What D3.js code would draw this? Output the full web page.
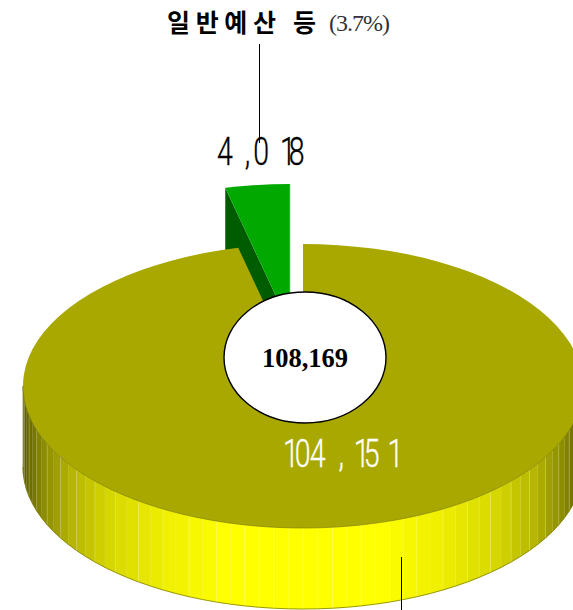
<!DOCTYPE html>
<html>
<head>
<meta charset="utf-8">
<script src="https://cdn.jsdelivr.net/npm/d3@7"></script>
<style>
html, body { margin: 0; padding: 0; background: #fff; overflow: hidden; }
svg { display: block; }
text { white-space: pre; }
</style>
</head>
<body>
<svg id="chart" width="573" height="610"></svg>
<script>
const categories = ["예산 외", "일반예산 등"];
const values = [104151, 4018];
const valueLabels = ["104 , 15 1", "4 ,0 18"];
const totalLabel = "108,169";
const shareLabel = "(3.7%)";

const cx = 303, cy = 386, rx = 280, ry = 142, depth = 81;
const offset = { x: -13, y: -60 };   // exploded slice
const stepDeg = 3;

const svg = d3.select("#chart");

const pie = d3.pie().sort(null).value(d => d);
const slices = pie(values);
const main = slices[0], small = slices[1];

const arc = d3.arc().innerRadius(0).outerRadius(rx);
const rim = (a, ox = 0, oy = 0) => [cx + ox + rx * Math.sin(a), cy + oy - ry * Math.cos(a)];
const line = d3.line();

// wall colour depends on how far round the side we are
const wallColor = d3.scaleLinear()
    .domain([0, 0.28, 0.5, 0.68, 0.82, 0.93, 1])
    .range(["#ffff00", "#ffff00", "#eeee00", "#d8d800", "#b8b800", "#8a8a00", "#5c5c00"]);

// green slice: side wall then top
const ap = [cx + offset.x, cy + offset.y];
const p0 = rim(small.startAngle, offset.x, offset.y);
svg.append("path")
    .attr("d", line([ap, p0, [p0[0], p0[1] + depth], [ap[0], ap[1] + depth]]) + "Z")
    .attr("fill", "#005c00");
svg.append("path")
    .attr("d", arc(small))
    .attr("transform", `translate(${cx + offset.x},${cy + offset.y}) scale(1,${ry / rx})`)
    .attr("fill", "#00a800");
// pale right edge of the green slice
svg.append("line")
    .attr("x1", ap[0]).attr("y1", ap[1] - ry).attr("x2", ap[0]).attr("y2", ap[1])
    .attr("stroke", "#80d080").attr("stroke-width", 0.7);

// main slice: outer wall in strips
const step = stepDeg * Math.PI / 180;
const angles = d3.range(Math.PI / 2, 3 * Math.PI / 2 + step / 2, step);
const wall = svg.append("g");
angles.slice(0, -1).forEach((a, i) => {
    const b = angles[i + 1];
    const p = rim(a), q = rim(b);
    const c = wallColor(Math.abs(Math.sin((a + b) / 2)));
    wall.append("path")
        .attr("d", line([p, q, [q[0], q[1] + depth], [p[0], p[1] + depth]]) + "Z")
        .attr("fill", c)
        .attr("stroke", c)
        .attr("stroke-width", 0.5);
});
angles.forEach((a, i) => {
    const q = rim(a);
    wall.append("line")
        .attr("x1", q[0]).attr("y1", q[1])
        .attr("x2", q[0]).attr("y2", q[1] + depth)
        .attr("stroke", "#fff")
        .attr("stroke-opacity", i % 2 ? 0.15 : 0.35)
        .attr("stroke-width", 0.7);
});
// dark edge under the wall
const bottom = angles.map(a => { const p = rim(a); return [p[0], p[1] + depth]; });
svg.append("path")
    .attr("d", line(bottom))
    .attr("fill", "none")
    .attr("stroke", "#808000")
    .attr("stroke-width", 0.8);

// main slice top
svg.append("path")
    .attr("d", arc(main))
    .attr("transform", `translate(${cx},${cy}) scale(1,${ry / rx})`)
    .attr("fill", "#a8a800");
svg.append("path")
    .attr("d", line(d3.range(Math.PI / 2, 3 * Math.PI / 2, 0.01).map(a => rim(a))))
    .attr("fill", "none")
    .attr("stroke", "#808000")
    .attr("stroke-width", 0.7);

// centre hole
svg.append("ellipse")
    .attr("cx", 305).attr("cy", 357.5)
    .attr("rx", 81).attr("ry", 65.5)
    .attr("fill", "#fff")
    .attr("stroke", "#000")
    .attr("stroke-width", 1.4);

// leader lines
svg.append("line").attr("x1", 259.5).attr("y1", 44).attr("x2", 259.5).attr("y2", 143)
    .attr("stroke", "#000").attr("stroke-width", 1);
svg.append("line").attr("x1", 401.5).attr("y1", 557).attr("x2", 401.5).attr("y2", 610)
    .attr("stroke", "#000").attr("stroke-width", 1);

// texts
const label = (x, y, s, size, w, o = {}) => svg.append("text")
    .attr("x", x).attr("y", y)
    .attr("textLength", w)
    .attr("lengthAdjust", o.adjust || "spacing")
    .attr("font-family", o.family || "Roboto, 'Liberation Sans', sans-serif")
    .attr("font-size", size)
    .attr("font-weight", o.weight || "300")
    .attr("fill", o.fill || "#000")
    .text(s);

// the big numbers are condensed and unevenly spaced in the original
const sx = 0.75;
const bigNumber = (x, y, s, kern, fill) => svg.append("text")
    .attr("transform", `translate(${x},${y}) scale(${sx},1)`)
    .attr("dx", kern.map(d => (d / sx).toFixed(1)).join(" "))
    .attr("font-family", "Roboto, 'Liberation Sans', sans-serif")
    .attr("font-size", 38)
    .attr("font-weight", 300)
    .attr("fill", fill)
    .attr("stroke", fill)
    .attr("stroke-width", 0.35)
    .text(s);

label(167, 32, categories[1], 25, 149,
    { family: "'Noto Sans CJK KR', sans-serif", weight: "bold" });
label(329, 31, shareLabel, 24, 61, { family: "'Liberation Serif', serif", fill: "#333", weight: "normal" });
bigNumber(217, 165, valueLabels[1], [0, 0, 5, 3, 0, 4, -7], "#000");
bigNumber(283, 467, valueLabels[0], [0, -4, -1, 0, 6, 0, 3, -6, 0, 1], "#fff");
label(262, 367, totalLabel, 27, 86, { family: "'Liberation Serif', serif", weight: "bold", adjust: "spacingAndGlyphs" });
</script>
</body>
</html>
